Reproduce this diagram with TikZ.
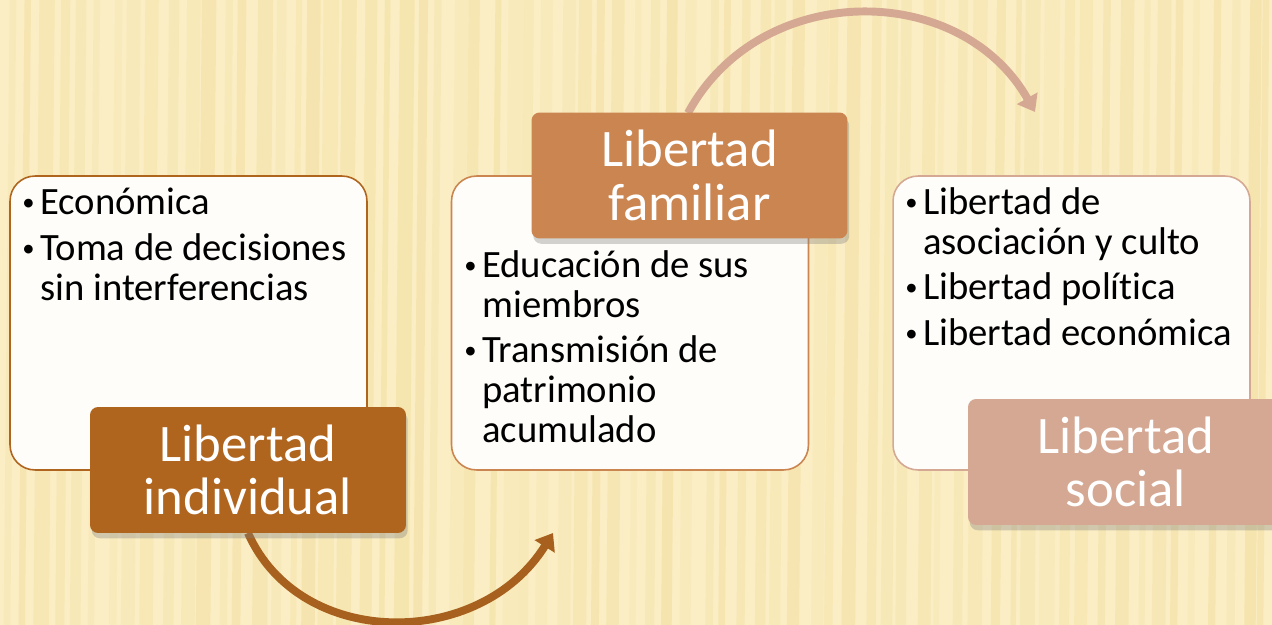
\documentclass[tikz,border=0pt]{standalone}
\usepackage{fontspec}
\setmainfont{Carlito}[Ligatures=NoCommon]
\usetikzlibrary{arrows.meta,shadows,positioning}

\definecolor{bgyellow}{HTML}{FBEEC4}
\definecolor{stripe}{HTML}{EFD994}
\definecolor{boxfill}{HTML}{FEFDF9}
\definecolor{brownA}{HTML}{B0651F}
\definecolor{brownB}{HTML}{CB8551}
\definecolor{brownC}{HTML}{D4A893}

\newcommand{\bitem}{\makebox[10.2pt][l]{\raisebox{2.2pt}{\fontsize{14}{14}\selectfont\textbullet}}}
\newcommand{\bcont}{\hspace*{10.2pt}}

\begin{document}
\begin{tikzpicture}[
    x=0.02cm, y=-0.02cm,
    panel/.style={draw=#1, line width=0.9pt, fill=boxfill, rounded corners=0.5cm,
        minimum width=7.14cm, minimum height=5.88cm},
    title/.style={fill=#1, rounded corners=0.16cm, minimum width=6.32cm, minimum height=2.52cm,
        align=center, text=white, font=\fontsize{30}{30.6}\selectfont,
        drop shadow={shadow xshift=1pt, shadow yshift=-3pt, opacity=0.35}},
    items/.style={anchor=base west, inner sep=0pt, align=left, font=\fontsize{22}{22.7}\selectfont},
    flow/.style={line width=4.5pt, draw=#1, -{Triangle[length=9pt,width=13pt]}}
]
\useasboundingbox (0,0) rectangle (1272,625);
\begin{scope}
\clip (0,0) rectangle (1272,625);
% background
\fill[bgyellow] (0,0) rectangle (1272,625);
\pgfmathsetseed{7}
\foreach \i in {0,...,70}{
    \pgfmathsetmacro{\sx}{\i*18+rnd*8}
    \pgfmathsetmacro{\sw}{3+rnd*6}
    \pgfmathsetmacro{\so}{0.15+rnd*0.3}
    \draw[stripe, opacity=\so, line width=\sw pt] (\sx,625) -- (\sx+6,0);
}

% arrows
\coordinate (end1) at (553,533);
\coordinate (end2) at (1035,112);
\coordinate (start1) at (248,533);
\coordinate (start2) at (688,113);
\draw[flow=brownA!95!black] (start1) .. controls (300,650) and (480,650) .. (end1);
\draw[flow=brownC] (start2) .. controls (760,-20) and (960,-20) .. (end2);

% content boxes
\node[panel=brownA] (indiv) at (188.5,323) {};
\node[panel=brownB] (famil) at (630,323) {};
\node[panel=brownC] (socia) at (1071.5,323) {};

\node[items] (indivtxt) at (22,300) {\bitem Económica\\[3.5pt]
    \bitem Toma de decisiones\\ \bcont sin interferencias};
\node[items] (familtxt) at (464,442) {\bitem Educación de sus\\ \bcont miembros\\[3pt]
    \bitem Transmisión de\\ \bcont patrimonio\\ \bcont acumulado};
\node[items] (sociatxt) at (905,345) {\bitem Libertad de\\ \bcont asociación y culto\\[3pt]
    \bitem Libertad polít\kern0pt ica\\[3pt] \bitem Libertad económica};

% titles
\node[title=brownA] (indivttl) at (248,470) {Libertad\\individual};
\node[title=brownB] (familttl) at (689.5,175.5) {Libertad\\familiar};
\node[title=brownC] (sociattl) at (1126,462) {Libertad\\social};
\end{scope}
\end{tikzpicture}
\end{document}
